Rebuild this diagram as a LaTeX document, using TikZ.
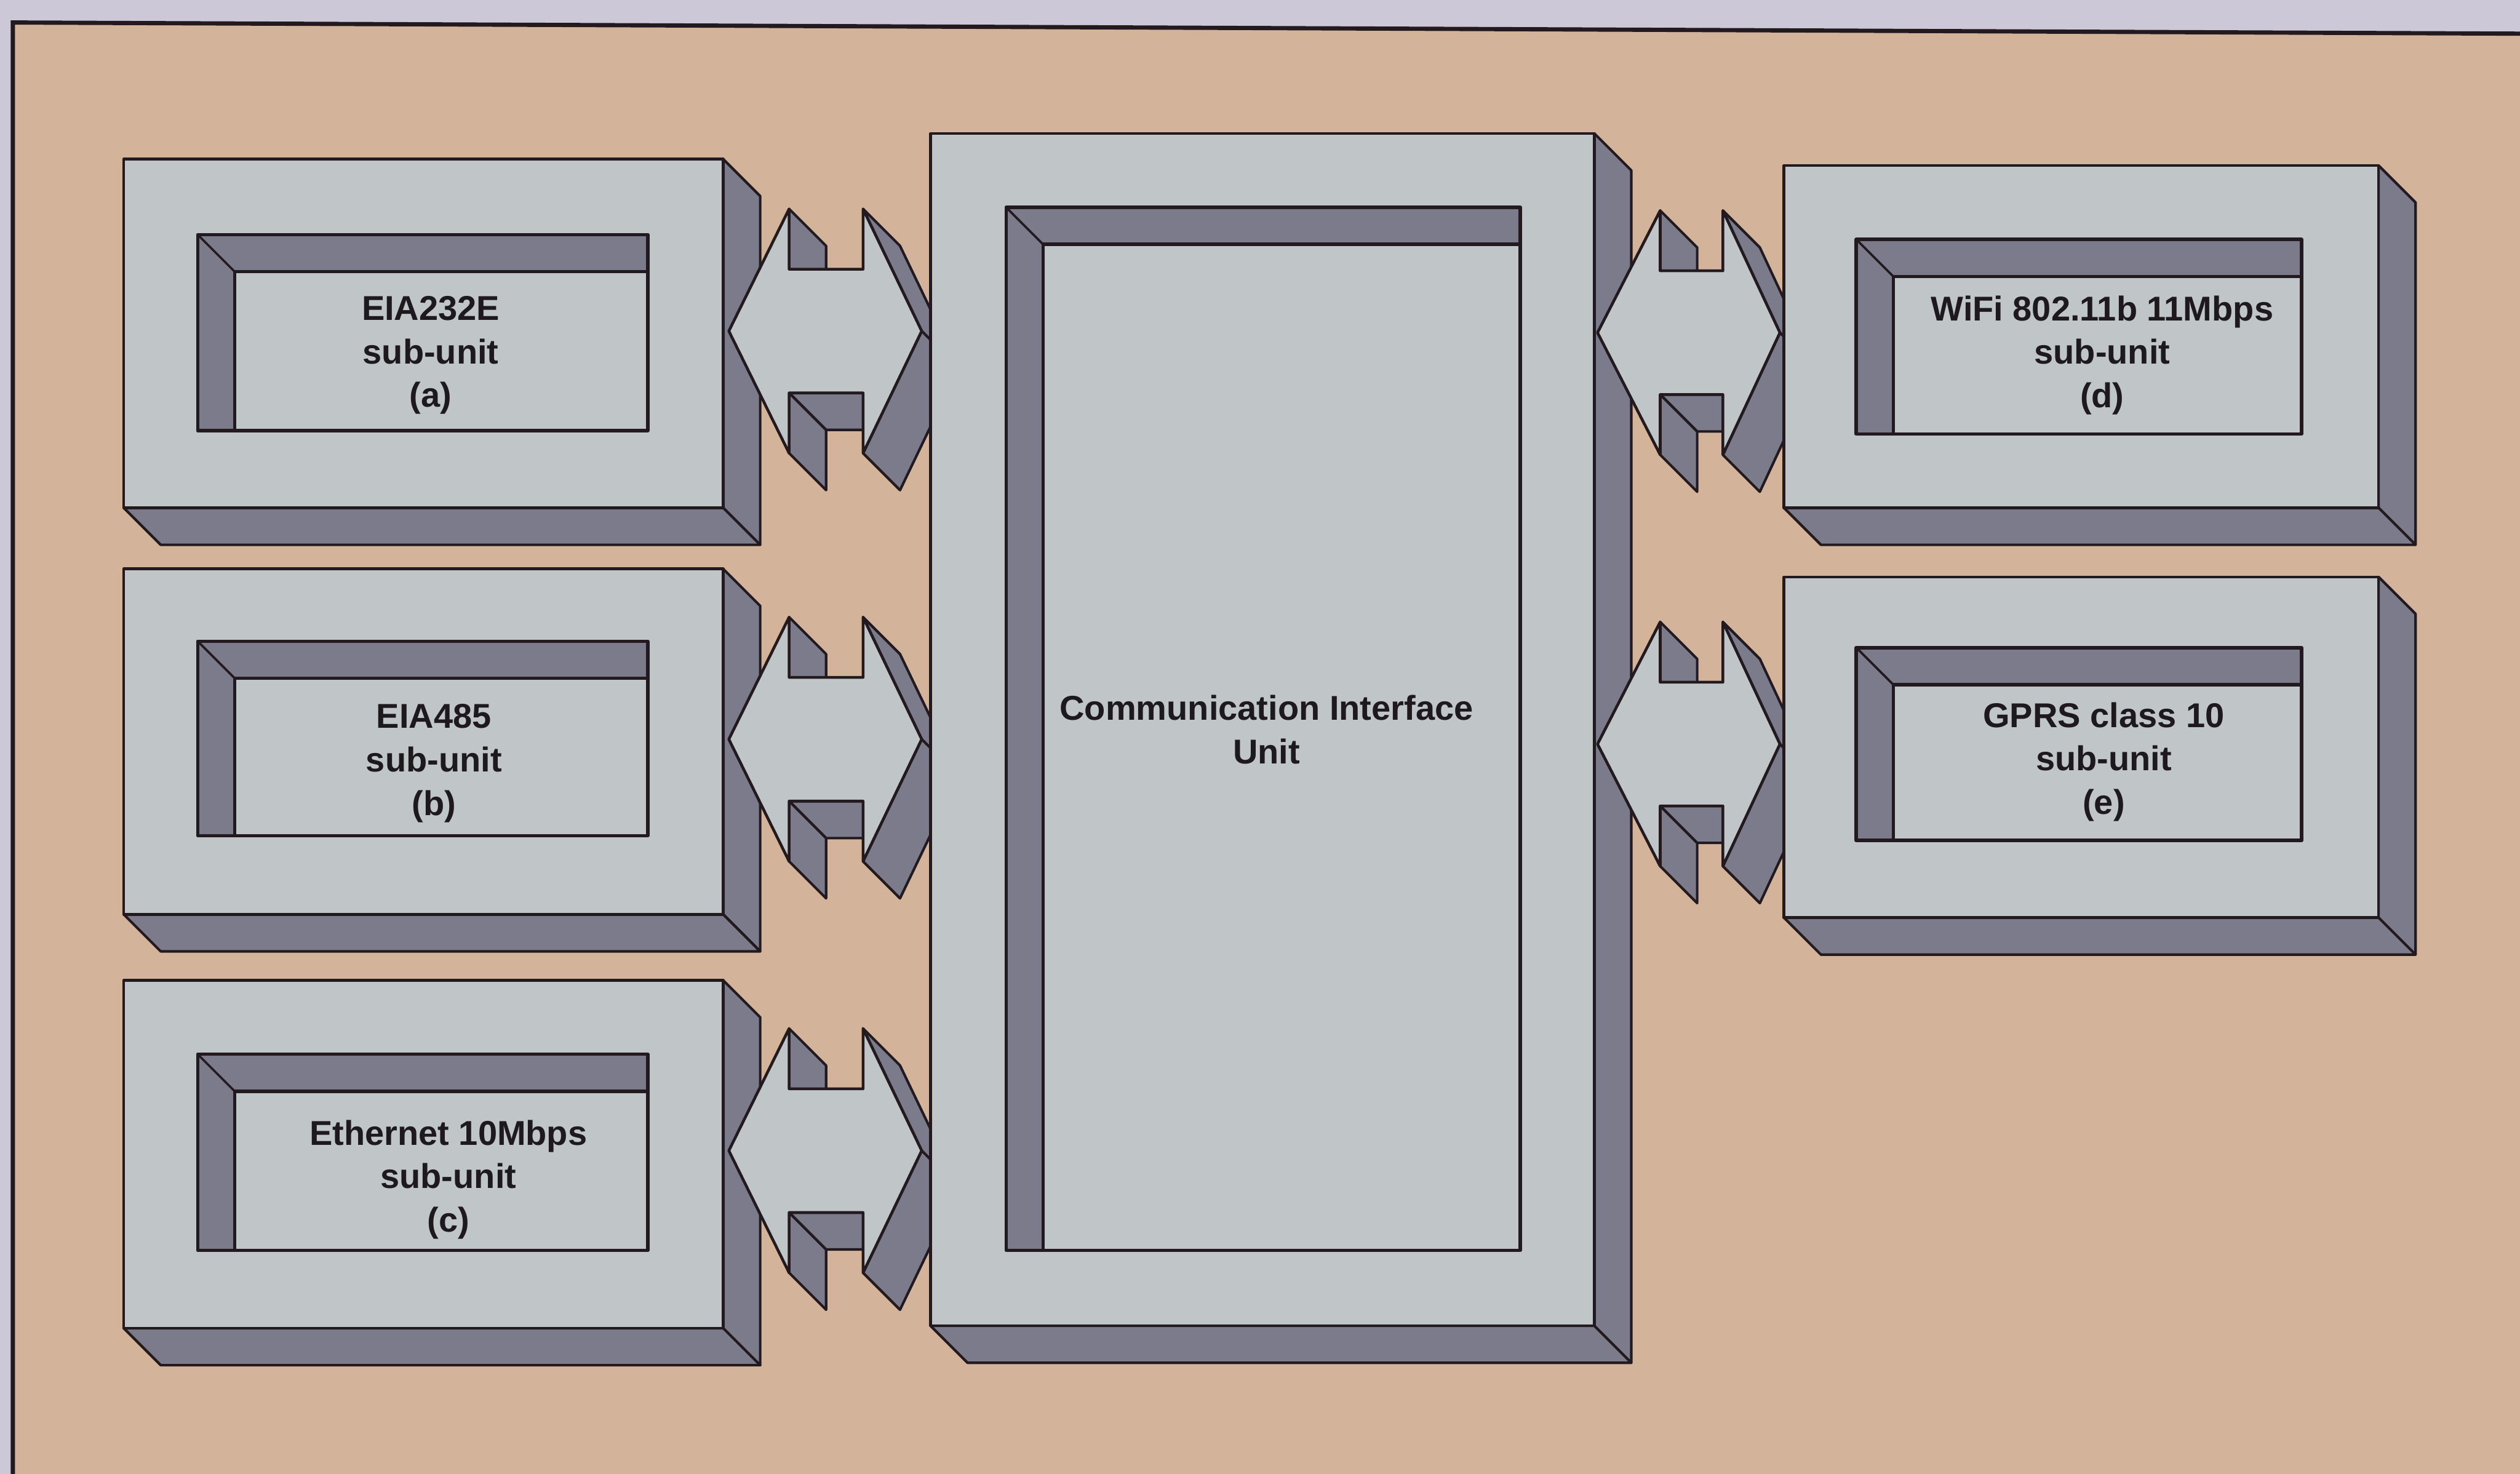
\documentclass[tikz,border=0pt]{standalone}
\usepackage{fontspec}
\setmainfont{Liberation Sans}
\definecolor{lav}{HTML}{CDC8D7}
\definecolor{peach}{HTML}{D4B39B}
\definecolor{facecol}{HTML}{C0C6C7}
\definecolor{sidegray}{HTML}{7B7B8B}
\definecolor{edgecol}{HTML}{231A1F}
\definecolor{txtcol}{HTML}{1D191D}
\tikzset{
  boxside/.style={fill=sidegray, draw=edgecol, line width=0.9pt, line join=round},
  boxfront/.style={fill=facecol, draw=edgecol, line width=1pt, line join=round},
  recessline/.style={draw=edgecol, line width=1.2pt, line join=round},
  frameline/.style={draw=edgecol, line width=1.5pt},
  labeltext/.style={font=\bfseries\fontsize{12.2}{15.4}\selectfont, text=txtcol, align=center, inner sep=0pt},
}
% 3D box: name, x1, y1, x2, y2, rx1, ry1, rx2, ry2
\newcommand{\tdbox}[9]{%
  \path[boxside] (#4,#3) -- ({#4+23},{#3+23}) -- ({#4+23},{#5+23}) -- (#4,#5) -- cycle;
  \path[boxside] (#2,#5) -- (#4,#5) -- ({#4+23},{#5+23}) -- ({#2+23},{#5+23}) -- cycle;
  \path[boxfront] (#2,#3) rectangle (#4,#5);
  \coordinate (#1) at ({(#2+#4)/2},{(#3+#5)/2});
  \fill[sidegray] (#6,#7) rectangle (#8,#9);
  \fill[facecol] ({#6+23},{#7+23}) rectangle (#8,#9);
  \draw[recessline, line width=0.8pt] (#6,#7) -- ({#6+23},{#7+23});
  \draw[recessline] ({#6+23},#9) -- ({#6+23},{#7+23}) -- (#8,{#7+23});
  \draw[recessline] (#6,#7) rectangle (#8,#9);
}
% block double arrow: name, tipL, headL, headR, tipR, cy
\newcommand{\blockarrow}[6]{%
  \coordinate (#1-l) at (#2,#6);
  \coordinate (#1-r) at (#5,#6);
  \path[boxside] (#3,{#6-76}) -- (#3,{#6-38.5}) -- ({#3+23},{#6-15.5}) -- ({#3+23},{#6-53}) -- cycle;
  \path[boxside] (#4,{#6+38.5}) -- (#3,{#6+38.5}) -- ({#3+23},{#6+61.5}) -- ({#4+23},{#6+61.5}) -- cycle;
  \path[boxside] (#3,{#6+38.5}) -- (#3,{#6+76}) -- ({#3+23},{#6+99}) -- ({#3+23},{#6+61.5}) -- cycle;
  \path[boxside] (#4,{#6-76}) -- (#5,#6) -- ({#5+23},{#6+23}) -- ({#4+23},{#6-53}) -- cycle;
  \path[boxside] (#5,#6) -- (#4,{#6+76}) -- ({#4+23},{#6+99}) -- ({#5+23},{#6+23}) -- cycle;
  \path[boxfront] (#1-l) -- (#3,{#6-76}) -- (#3,{#6-38.5}) -- (#4,{#6-38.5}) -- (#4,{#6-76})
     -- (#1-r) -- (#4,{#6+76}) -- (#4,{#6+38.5}) -- (#3,{#6+38.5}) -- (#3,{#6+76}) -- cycle;
}
\begin{document}
\begin{tikzpicture}[x=0.02cm,y=-0.02cm]
\path[use as bounding box] (0,0) rectangle (1568,917);
\clip (0,0) rectangle (1568,917);
% backgrounds
\fill[lav] (-10,-10) rectangle (1580,930);
\fill[peach] (8,14) -- (1580,21) -- (1580,940) -- (8,940) -- cycle;
\draw[frameline] (8,940) -- (8,14) -- (1580,21);

% left boxes
\tdbox{boxa}{77}{99}{450}{316}{123}{146}{403}{268}
\tdbox{boxb}{77}{354}{450}{569}{123}{399}{403}{520}
\tdbox{boxc}{77}{610}{450}{826.5}{123}{656}{403}{778}

% left arrows
\blockarrow{arra}{453.5}{491}{537}{573.5}{206}
\blockarrow{arrb}{453.5}{491}{537}{573.5}{460}
\blockarrow{arrc}{453.5}{491}{537}{573.5}{716}

% central unit
\tdbox{ciu}{579}{83}{992}{825}{626}{129}{946}{778}

% right arrows
\blockarrow{arrd}{994}{1033}{1072}{1107.5}{207}
\blockarrow{arre}{994}{1033}{1072}{1107.5}{463}

% right boxes
\tdbox{boxd}{1110}{103}{1480}{316}{1155}{149}{1432}{270}
\tdbox{boxe}{1110}{359}{1480}{571}{1155}{403}{1432}{523}

% texts
\node[labeltext] (ta) at (268,221) {EIA232E\\sub-unit\\(a)};
\node[labeltext] (tb) at (270,475) {EIA485\\sub-unit\\(b)};
\node[labeltext] (tc) at (279,734) {Ethernet 10Mbps\\sub-unit\\(c)};
\node[labeltext] (td) at (1308,221) {WiFi 802.11b 11Mbps\\sub-unit\\(d)};
\node[labeltext] (te) at (1309,474) {GPRS class 10\\sub-unit\\(e)};
\node[labeltext] (tciu) at (788,454) {Communication Interface\\Unit};
\end{tikzpicture}
\end{document}
